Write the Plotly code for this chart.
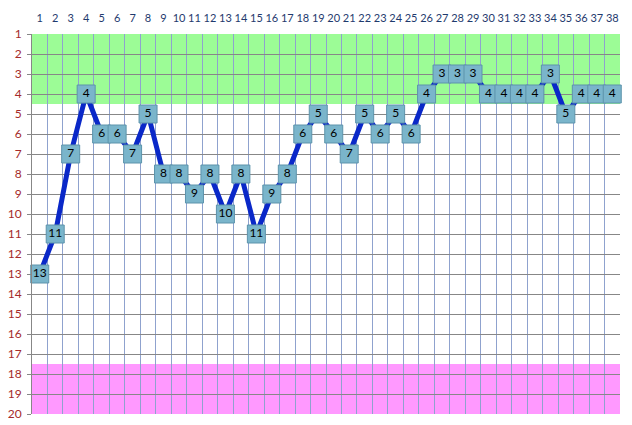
import plotly.graph_objects as go

days = list(range(1, 39))
values = [13, 11, 7, 4, 6, 6, 7, 5, 8, 8, 9, 8, 10, 8, 11, 9, 8, 6, 5, 6,
          7, 5, 6, 5, 6, 4, 3, 3, 3, 4, 4, 4, 4, 3, 5, 4, 4, 4]
y_ticks = list(range(1, 21))
green_band = [1, 4.5]
pink_band = [17.5, 20]

fig = go.Figure()
fig.add_trace(go.Scatter(
    x=days, y=values, mode="lines+markers+text",
    text=[str(v) for v in values], textposition="middle center",
    textfont=dict(family="Lato, sans-serif", size=12, color="#000000"),
    line=dict(color="#0A28C8", width=5),
    marker=dict(symbol="square", size=18, color="#7AB5CB",
                line=dict(color="#5C93AB", width=1)),
    hoverinfo="skip", showlegend=False, cliponaxis=False,
))

fig.add_shape(type="rect", xref="paper", yref="y", x0=0, x1=1,
              y0=green_band[0], y1=green_band[1], fillcolor="#9CFC96",
              line=dict(width=0), layer="below")
fig.add_shape(type="rect", xref="paper", yref="y", x0=0, x1=1,
              y0=pink_band[0], y1=pink_band[1], fillcolor="#FF99FF",
              line=dict(width=0), layer="below")

fig.update_layout(
    width=632, height=425,
    margin=dict(l=24, r=20, t=26, b=19, autoexpand=False),
    paper_bgcolor="#FFFFFF", plot_bgcolor="#FFFFFF",
    font=dict(family="Lato, sans-serif", size=12),
)
fig.update_xaxes(
    side="top", range=[0.5, 38.5], tickmode="array", tickvals=days,
    ticktext=[str(d) for d in days], showgrid=False, zeroline=False,
    ticks="", tickangle=0, ticklabelstandoff=9, automargin=False,
    tickfont=dict(color="#1F3A6E", size=11),
    showline=False,
    minor=dict(tickmode="linear", tick0=0.5, dtick=1, showgrid=True,
               gridcolor="#8FA2CE", gridwidth=1, ticks=""),
)
fig.update_yaxes(
    range=[20, 1], tickmode="array", tickvals=y_ticks, automargin=False,
    ticktext=[str(v) for v in y_ticks], showgrid=True, gridcolor="#878787",
    gridwidth=1, zeroline=False, ticks="outside", ticklen=4,
    ticklabelstandoff=3,
    tickcolor="#878787", tickfont=dict(color="#A52A2A", size=12),
    showline=True, linecolor="#878787", linewidth=1,
)

fig.write_html("out.html")
